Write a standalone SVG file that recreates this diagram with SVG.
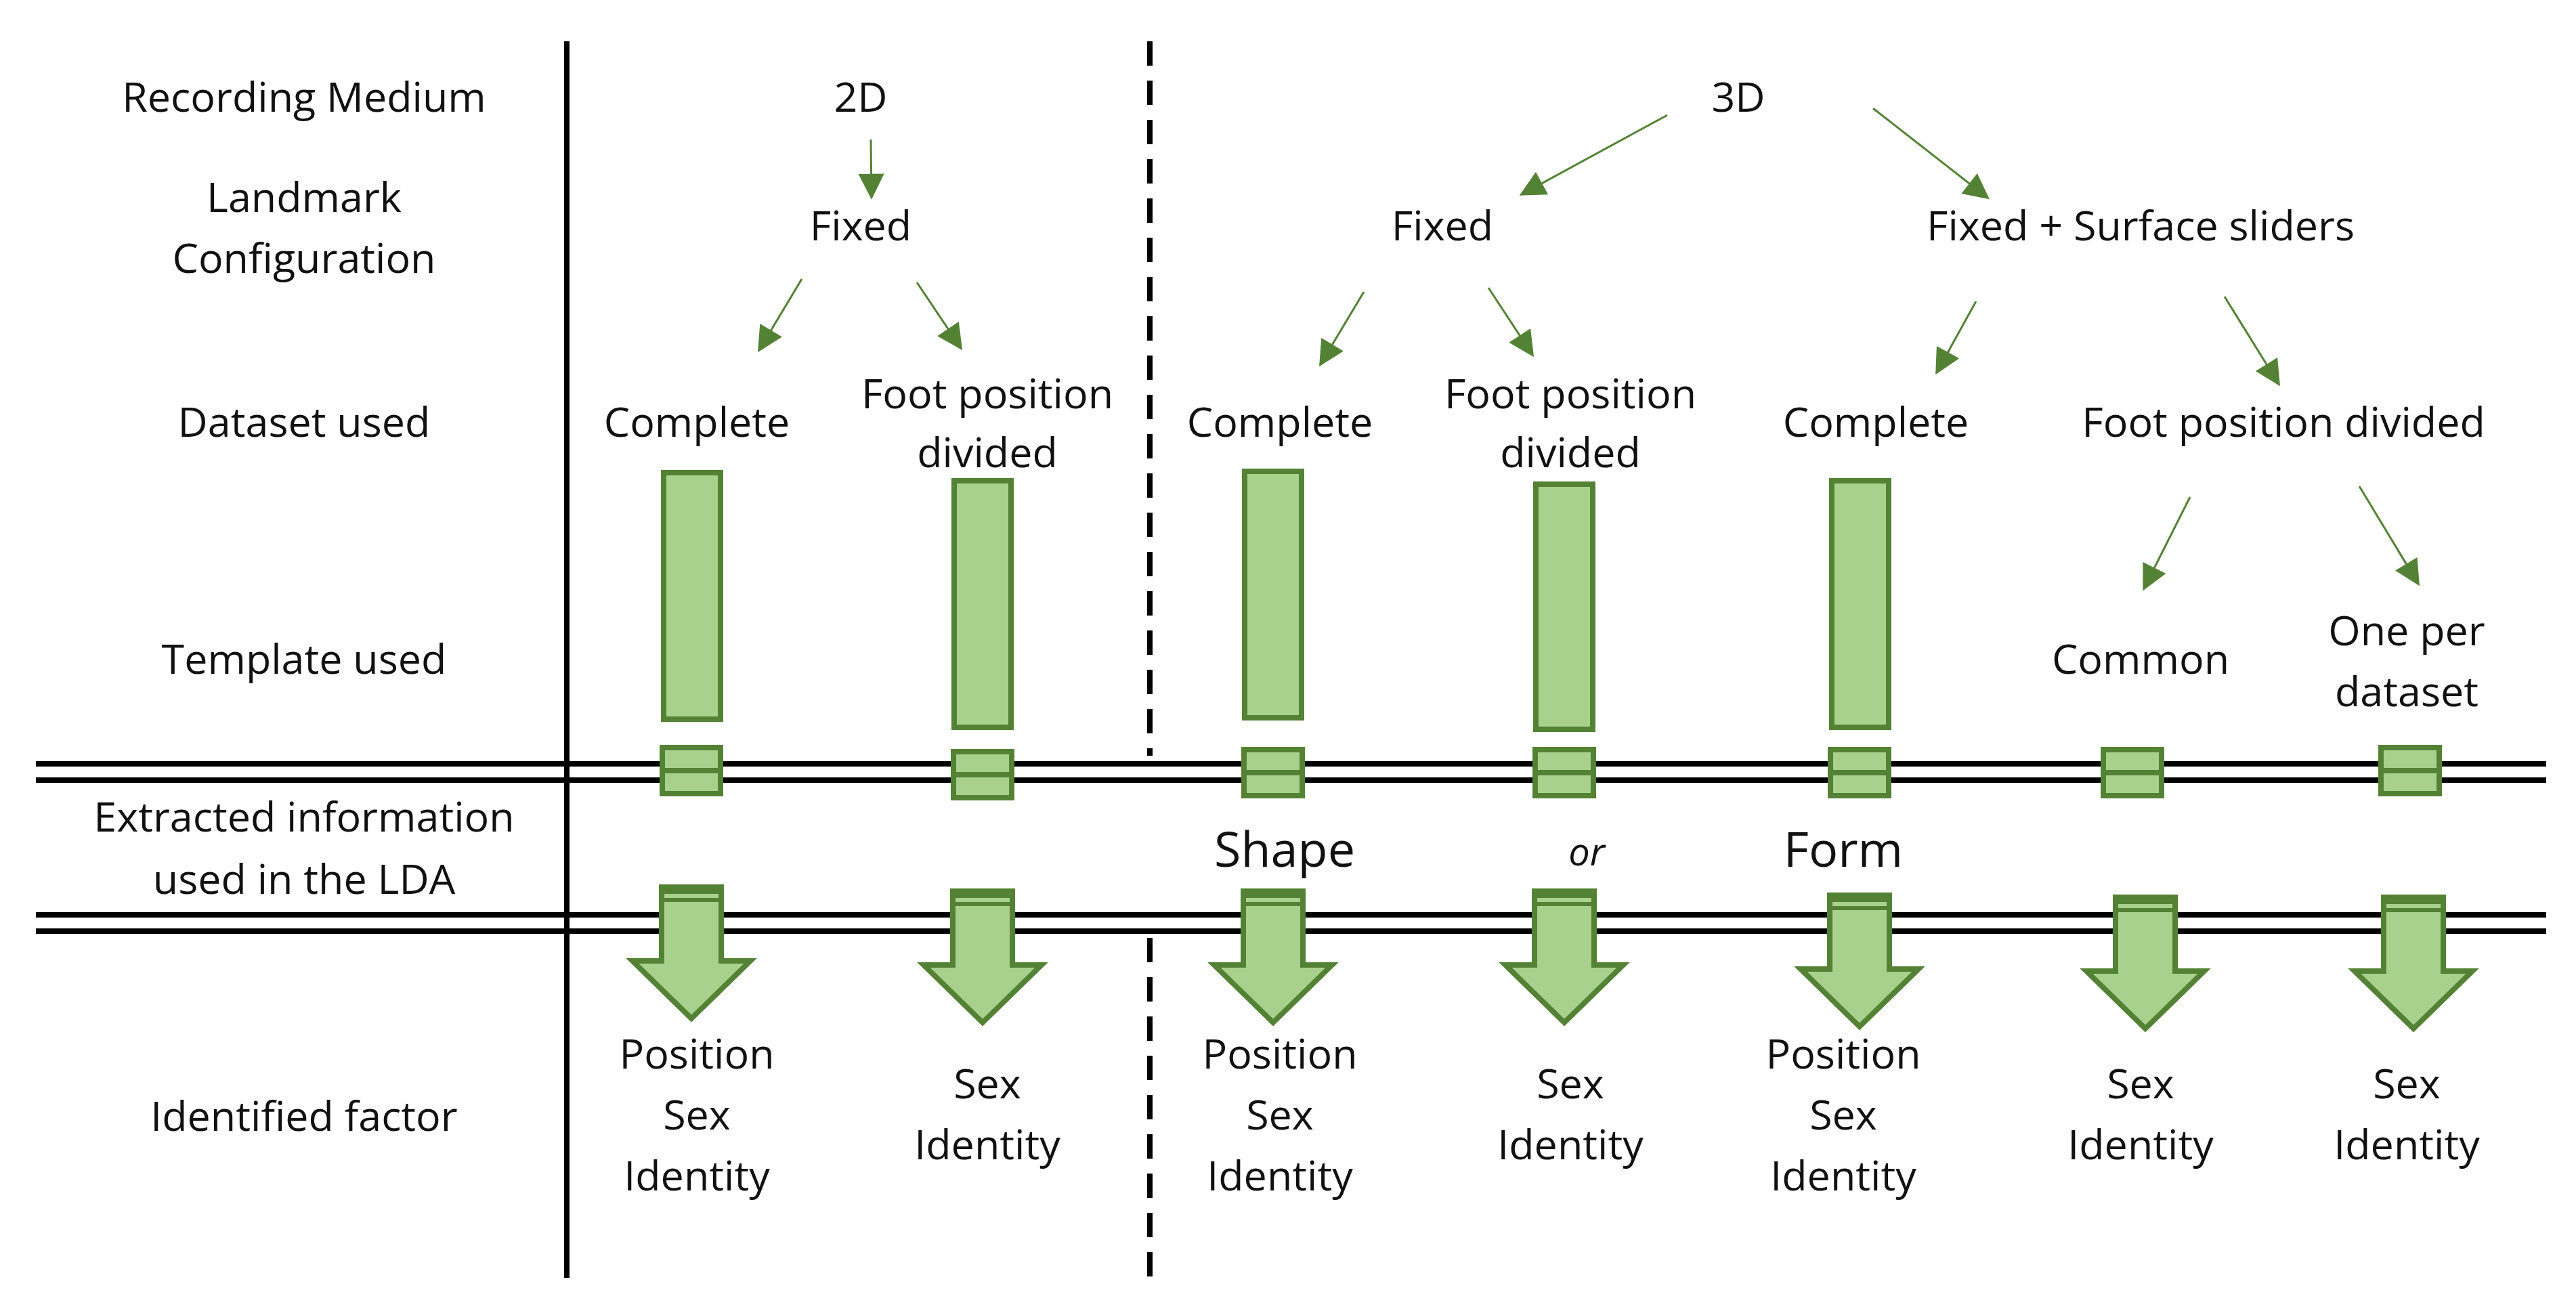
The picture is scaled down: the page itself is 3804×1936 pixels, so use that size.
<svg xmlns="http://www.w3.org/2000/svg" width="3804" height="1936" viewBox="0 0 3804 1936">
<style>
text{font-family:"Open Sans","Liberation Sans",sans-serif;font-size:61px;fill:#111;text-anchor:middle}
.big{font-size:72px}
.it{font-style:italic;font-size:56px}
.bar{fill:#a9d18e;stroke:#548235;stroke-width:8}
.ln{stroke:#000;stroke-width:8}
.thin{stroke:#548235;stroke-width:3;fill:none;marker-end:url(#ah2)}
</style>
<defs>
<marker id="ah2" viewBox="0 0 10 10" refX="9" refY="5" markerWidth="44" markerHeight="38" markerUnits="userSpaceOnUse" orient="auto"><path d="M0,0L10,5L0,10z" fill="#548235"/></marker>
<g id="smallbox"><rect x="-43" y="-34" width="86" height="68" class="bar"/><line x1="-43" y1="0" x2="43" y2="0" stroke="#548235" stroke-width="8"/></g>
<g id="bigarrow"><path d="M-44,0H44V109H87L0,194L-87,109H-44Z" class="bar"/><rect x="-44" y="0" width="88" height="10" fill="#548235"/><rect x="-44" y="16" width="88" height="6" fill="#548235"/></g>
</defs>
<g id="grid">
<line x1="837" y1="61" x2="837" y2="1887" class="ln" stroke-width="7"/>
<line x1="1698" y1="61" x2="1698" y2="1116" class="ln" stroke-width="5" stroke-dasharray="36,22"/>
<line x1="1698" y1="1385" x2="1698" y2="1887" class="ln" stroke-width="5" stroke-dasharray="36,22"/>
<line x1="53" y1="1128" x2="3760" y2="1128" class="ln"/>
<line x1="53" y1="1152" x2="3760" y2="1152" class="ln"/>
<line x1="53" y1="1351" x2="3760" y2="1351" class="ln"/>
<line x1="53" y1="1375" x2="3760" y2="1375" class="ln"/>
</g>
<g id="row-labels">
<text x="449" y="165">Recording Medium</text>
<text x="449" y="313">Landmark</text>
<text x="449" y="403">Configuration</text>
<text x="449" y="645">Dataset used</text>
<text x="449" y="995">Template used</text>
<text x="449" y="1228">Extracted information</text>
<text x="449" y="1320">used in the LDA</text>
<text x="449" y="1670">Identified factor</text>
</g>
<g id="nodes">
<text x="1271" y="165">2D</text>
<text x="2567" y="165">3D</text>
<text x="1271" y="355">Fixed</text>
<text x="2130" y="355">Fixed</text>
<text x="3161" y="355">Fixed + Surface sliders</text>
<text x="1029" y="645">Complete</text>
<text x="1458" y="603">Foot position</text>
<text x="1458" y="690">divided</text>
<text x="1890" y="645">Complete</text>
<text x="2319" y="603">Foot position</text>
<text x="2319" y="690">divided</text>
<text x="2770" y="645">Complete</text>
<text x="3372" y="645">Foot position divided</text>
<text x="3161" y="995">Common</text>
<text x="3554" y="953">One per</text>
<text x="3554" y="1043">dataset</text>
<text x="1897" y="1280" class="big">Shape</text>
<text x="2343" y="1278" class="it">or</text>
<text x="2722" y="1280" class="big">Form</text>
<text x="1029" y="1578">Position</text><text x="1029" y="1668">Sex</text><text x="1029" y="1758">Identity</text>
<text x="1458" y="1622">Sex</text><text x="1458" y="1712">Identity</text>
<text x="1890" y="1578">Position</text><text x="1890" y="1668">Sex</text><text x="1890" y="1758">Identity</text>
<text x="2319" y="1622">Sex</text><text x="2319" y="1712">Identity</text>
<text x="2722" y="1578">Position</text><text x="2722" y="1668">Sex</text><text x="2722" y="1758">Identity</text>
<text x="3161" y="1622">Sex</text><text x="3161" y="1712">Identity</text>
<text x="3554" y="1622">Sex</text><text x="3554" y="1712">Identity</text>
</g>
<g id="bars">
<rect x="980" y="698" width="84" height="364" class="bar"/>
<rect x="1409" y="710" width="84" height="364" class="bar"/>
<rect x="1838" y="696" width="84" height="364" class="bar"/>
<rect x="2268" y="715" width="84" height="362" class="bar"/>
<rect x="2705" y="710" width="84" height="364" class="bar"/>
<use href="#smallbox" x="1021" y="1138"/>
<use href="#smallbox" x="1451" y="1144"/>
<use href="#smallbox" x="1880" y="1141"/>
<use href="#smallbox" x="2310" y="1141"/>
<use href="#smallbox" x="2746" y="1141"/>
<use href="#smallbox" x="3149" y="1141"/>
<use href="#smallbox" x="3559" y="1138"/>
<use href="#bigarrow" x="1021" y="1310"/>
<use href="#bigarrow" x="1451" y="1316"/>
<use href="#bigarrow" x="1880" y="1316"/>
<use href="#bigarrow" x="2310" y="1316"/>
<use href="#bigarrow" x="2746" y="1322"/>
<use href="#bigarrow" x="3168" y="1325"/>
<use href="#bigarrow" x="3564" y="1325"/>
</g>
<g id="connectors">
<line x1="1286" y1="206" x2="1287" y2="291" class="thin"/>
<line x1="1184" y1="412" x2="1121" y2="517" class="thin"/>
<line x1="1354" y1="417" x2="1419" y2="514" class="thin"/>
<line x1="2462" y1="170" x2="2247" y2="287" class="thin"/>
<line x1="2766" y1="160" x2="2935" y2="292" class="thin"/>
<line x1="2014" y1="431" x2="1950" y2="538" class="thin"/>
<line x1="2198" y1="425" x2="2263" y2="524" class="thin"/>
<line x1="2918" y1="445" x2="2860" y2="550" class="thin"/>
<line x1="3285" y1="438" x2="3365" y2="567" class="thin"/>
<line x1="3234" y1="734" x2="3166" y2="869" class="thin"/>
<line x1="3484" y1="718" x2="3571" y2="862" class="thin"/>
</g>
</svg>
